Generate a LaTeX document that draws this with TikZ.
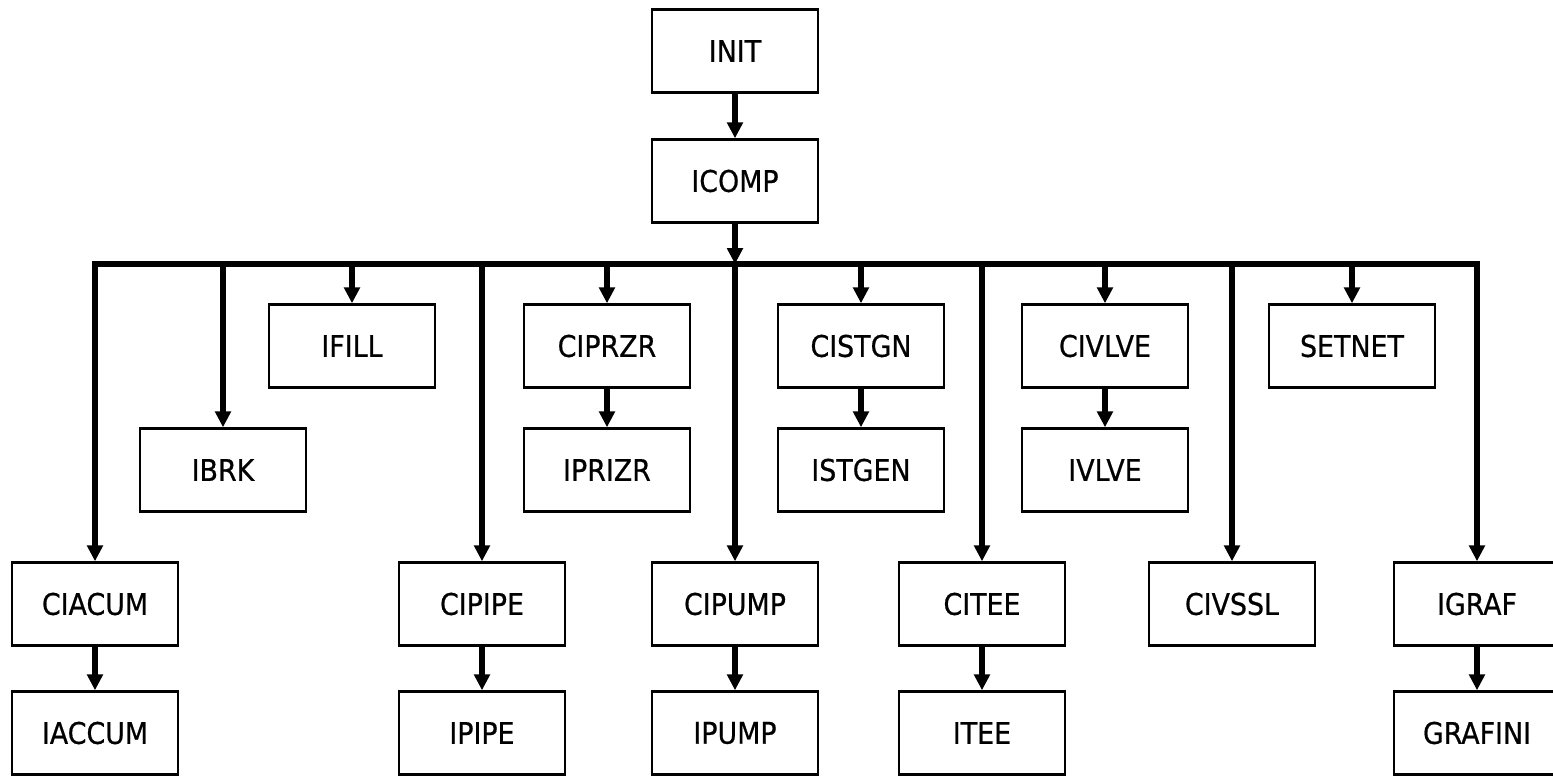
\documentclass[tikz,border=0pt]{standalone}
\usepackage{fontspec}
\setmainfont{DejaVu Sans Condensed}
\newfontfamily\lblfont{DejaVu Sans Condensed}[FakeBold=0.6]
\usetikzlibrary{arrows.meta}
\begin{document}
\begin{tikzpicture}[x=0.02cm,y=-0.02cm,
  box/.style={draw, line width=1.4pt, minimum width=3.32cm, minimum height=1.66cm,
    inner sep=0pt, font=\lblfont\fontsize{17}{20}\selectfont},
  flow/.style={line width=3.3pt, line join=miter, -{Triangle[length=0.32cm,width=0.31cm]}},
  busline/.style={line width=3pt}]
\useasboundingbox (0,0) rectangle (1553,777);

% top of the tree
\node[box] (init)  at (735,51)  {INIT};
\node[box] (icomp) at (735,181) {ICOMP};

% first row under the bus
\node[box] (ifill)  at (352,346)  {IFILL};
\node[box] (ciprzr) at (607,346)  {CIPRZR};
\node[box] (cistgn) at (861,346)  {CISTGN};
\node[box] (civlve) at (1105,346) {CIVLVE};
\node[box] (setnet) at (1352,346) {SETNET};

% second row
\node[box] (ibrk)   at (223,470)  {IBRK};
\node[box] (iprizr) at (607,470)  {IPRIZR};
\node[box] (istgen) at (861,470)  {ISTGEN};
\node[box] (ivlve)  at (1105,470) {IVLVE};

% third row
\node[box] (ciacum) at (95,604)   {CIACUM};
\node[box] (cipipe) at (482,604)  {CIPIPE};
\node[box] (cipump) at (735,604)  {CIPUMP};
\node[box] (citee)  at (982,604)  {CITEE};
\node[box] (civssl) at (1232,604) {CIVSSL};
\node[box] (igraf)  at (1477,604) {IGRAF};

% fourth row
\node[box] (iaccum)  at (95,733)   {IACCUM};
\node[box] (ipipe)   at (482,733)  {IPIPE};
\node[box] (ipump)   at (735,733)  {IPUMP};
\node[box] (itee)    at (982,733)  {ITEE};
\node[box] (grafini) at (1477,733) {GRAFINI};

% distribution bus
\coordinate (bus) at (735,264);

\draw[flow] (init) -- (icomp);
\draw[flow] (icomp) -- (bus);

\draw[flow] (bus) -| (ciacum.north);
\draw[flow] (bus) -| (igraf.north);

\foreach \n in {ibrk,ifill,cipipe,ciprzr,cipump,cistgn,citee,civlve,civssl,setnet}
  \draw[flow] (\n.north |- bus) -- (\n.north);

% second-level calls
\draw[flow] (ciprzr) -- (iprizr);
\draw[flow] (cistgn) -- (istgen);
\draw[flow] (civlve) -- (ivlve);
\draw[flow] (ciacum) -- (iaccum);
\draw[flow] (cipipe) -- (ipipe);
\draw[flow] (cipump) -- (ipump);
\draw[flow] (citee)  -- (itee);
\draw[flow] (igraf)  -- (grafini);
\end{tikzpicture}
\end{document}
